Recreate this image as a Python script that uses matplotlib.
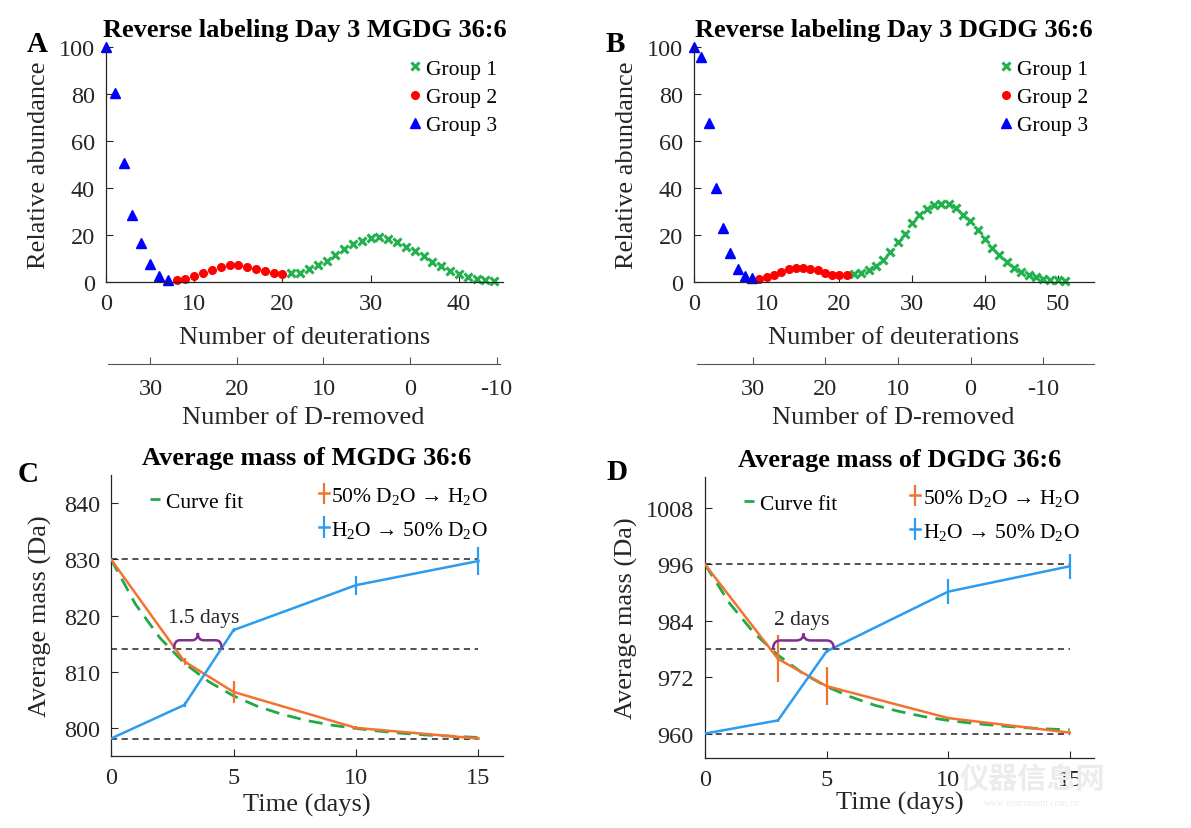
import numpy as np
import matplotlib
matplotlib.use('Agg')
import matplotlib.pyplot as plt
from matplotlib.path import Path
from matplotlib.patches import PathPatch

plt.rcParams['font.family'] = ['Liberation Serif', 'DejaVu Serif']
plt.rcParams['mathtext.fontset'] = 'custom'
plt.rcParams['mathtext.rm'] = 'Liberation Serif'
plt.rcParams['mathtext.it'] = 'Liberation Serif:italic'
plt.rcParams['mathtext.bf'] = 'Liberation Serif:bold'
plt.rcParams['axes.unicode_minus'] = False

# ---- panel A / B: isotope distributions ----
a_g3_x = list(range(0, 8))
a_g3 = [100, 80.4, 50.6, 28.7, 16.4, 7.5, 2.7, 0.9]
a_g2_x = list(range(8, 21))
a_g2 = [0.9, 1.4, 2.4, 3.7, 5.3, 6.5, 7.3, 7.3, 6.5, 5.7, 4.7, 3.8, 3.4]
a_g1_x = list(range(21, 45))
a_g1 = [3.7, 3.8, 5.4, 7.1, 9.1, 11.5, 13.9, 16.0, 17.6, 18.6, 19.0, 18.5,
        17.0, 15.0, 13.2, 11.1, 8.7, 6.7, 4.8, 3.3, 2.1, 1.3, 0.85, 0.6]

b_g3_x = list(range(0, 9))
b_g3 = [100, 95.6, 67.7, 40.0, 23.0, 12.5, 5.4, 2.6, 1.8]
b_g2_x = list(range(9, 22))
b_g2 = [1.4, 2.1, 3.0, 4.3, 5.4, 5.8, 6.0, 5.7, 5.1, 3.7, 3.1, 3.0, 3.1]
b_g1_x = list(range(22, 52))
b_g1 = [3.4, 3.7, 5.0, 6.8, 9.4, 12.8, 16.9, 20.6, 24.9, 28.6, 31.0, 32.9,
        33.4, 33.4, 31.4, 28.7, 26.0, 22.2, 18.5, 14.5, 11.4, 8.4, 6.1, 4.3,
        2.8, 2.0, 1.4, 1.0, 0.7, 0.4]

# ---- panel C / D: average mass over time ----
t = [0, 3, 5, 10, 15]
c_fwd = [830.0, 811.8, 806.4, 800.0, 798.1]
c_fwd_err = [0.1, 0.6, 1.9, 0.3, 0.2]
c_rev = [798.1, 804.1, 817.4, 825.4, 829.7]
c_rev_err = [0.1, 0.45, 0.3, 1.7, 2.5]
d_fwd = [996.0, 975.9, 970.1, 963.3, 960.2]
d_fwd_err = [0.1, 5.0, 4.1, 0.3, 0.2]
d_rev = [960.0, 962.8, 977.5, 990.2, 995.6]
d_rev_err = [0.1, 0.4, 0.3, 2.6, 2.7]

fit_t = list(range(0, 16))
c_fit = [830.0, 822.0, 816.0, 811.5, 808.2, 805.7, 803.8, 802.4, 801.3,
         800.5, 799.9, 799.4, 799.0, 798.7, 798.5, 798.3]
d_fit = [996.0, 987.8, 981.5, 976.7, 972.9, 970.0, 967.8, 966.0, 964.7,
         963.6, 962.8, 962.2, 961.7, 961.3, 961.0, 960.8]

c_levels = [830, 814, 798]
d_levels = [996, 978, 960]
c_brace = (2.57, 4.52, 814, 2.9)
d_brace = (2.8, 5.3, 978, 3.3)

GREEN = '#22b14c'
RED = '#ff0000'
BLUE = '#0000ff'
ORANGE = '#f3722f'
LBLUE = '#2b9cef'
PURPLE = '#7e2f8e'
AX = '#262626'

W, H = 1191, 829
fig = plt.figure(figsize=(W / 100, H / 100), dpi=100)


def box(l, t_, r, b):
    return [l / W, 1 - b / H, (r - l) / W, (b - t_) / H]


def style(ax):
    for s in ['top', 'right']:
        ax.spines[s].set_visible(False)
    for s in ['left', 'bottom']:
        ax.spines[s].set_color(AX)
        ax.spines[s].set_linewidth(0.9)
    ax.tick_params(direction='in', length=5, width=0.8, color=AX,
                   labelcolor=AX, labelsize=17.5, pad=8)


def sec_axis(rect, xlim, lab_x, lab_y):
    ax2 = fig.add_axes(rect)
    ax2.set_facecolor('none')
    for s in ['top', 'right', 'left']:
        ax2.spines[s].set_visible(False)
    ax2.spines['bottom'].set_color('#555555')
    ax2.set_yticks([])
    ax2.set_xlim(xlim)
    ax2.set_xticks([30, 20, 10, 0, -10])
    ax2.tick_params(direction='in', length=5, width=0.8, color='#555555',
                    labelcolor=AX, labelsize=17.5, pad=10)
    ax2.set_xlabel('Number of D-removed', fontsize=19, color=AX)
    ax2.xaxis.set_label_coords(lab_x / W, 1 - lab_y / H, transform=fig.transFigure)
    ax2.xaxis.label.set_va('center')


def dist_panel(rect, g1x, g1, g2x, g2, g3x, g3, xmax, xticks, title, letter, lx, xl_x):
    ax = fig.add_axes(rect)
    style(ax)
    ax.plot(g1x, g1, ls='none', marker='x', ms=5.5, mew=2.2, color=GREEN, label='Group 1', clip_on=False)
    ax.plot(g2x, g2, ls='none', marker='o', ms=5.5, color=RED, label='Group 2', clip_on=False)
    ax.plot(g3x, g3, ls='none', marker='^', ms=6.5, color=BLUE, label='Group 3', clip_on=False)
    ax.set_xlim(0, xmax)
    ax.set_ylim(0, 100)
    ax.set_xticks(xticks)
    ax.set_yticks([0, 20, 40, 60, 80, 100])
    ax.set_title(title, fontsize=19, fontweight='bold', pad=8)
    ax.set_ylabel('Relative abundance', fontsize=19, color=AX)
    ax.yaxis.set_label_coords(lx, 0.5)
    ax.set_xlabel('Number of deuterations', fontsize=19, color=AX)
    ax.xaxis.set_label_coords(xl_x / W, 1 - 338 / H, transform=fig.transFigure)
    ax.xaxis.label.set_va('center')
    ax.legend(loc='upper right', bbox_to_anchor=(0.985, 0.95), frameon=False,
              fontsize=15.5, handlelength=0.6, handletextpad=0.2, borderpad=0,
              borderaxespad=0, labelspacing=0.38, numpoints=1)
    fig.text(letter[0] / W, 1 - letter[1] / H, letter[2], fontsize=21,
             fontweight='bold', ha='center', va='center')
    return ax


def brace(ax, x0, x1, y0, h):
    xm = (x0 + x1) / 2
    q = (x1 - x0) * 0.12
    ym = y0 + h * 0.55
    verts = [(x0, y0), (x0, ym), (x0 + q, ym), (xm - q, ym), (xm, ym), (xm, y0 + h),
             (xm, ym), (xm + q, ym), (x1 - q, ym), (x1, ym), (x1, y0)]
    codes = [Path.MOVETO, Path.CURVE3, Path.CURVE3, Path.LINETO, Path.CURVE3, Path.CURVE3,
             Path.CURVE3, Path.CURVE3, Path.LINETO, Path.CURVE3, Path.CURVE3]
    ax.add_patch(PathPatch(Path(verts, codes), fill=False, ec=PURPLE, lw=1.8, zorder=5))


def mass_panel(rect, fwd, fwd_err, rev, rev_err, fit, levels, ylim, yticks, title,
               letter, lx, br, br_text, br_tx, br_ty, xl_y):
    ax = fig.add_axes(rect)
    style(ax)
    for lv in levels:
        ax.plot([0, 15], [lv, lv], ls=(0, (4, 3)), color='#222222', lw=1.1, zorder=1)
    fl, = ax.plot(fit_t, fit, ls=(0, (5, 3)), color='#22a84a', lw=2, zorder=2, label='Curve fit')
    e1 = ax.errorbar(t, fwd, yerr=fwd_err, color=ORANGE, lw=1.8, elinewidth=1.6,
                     capsize=0, zorder=3, label='50% D$_\\mathrm{2}$O → H$_\\mathrm{2}$O')
    e2 = ax.errorbar(t, rev, yerr=rev_err, color=LBLUE, lw=1.8, elinewidth=1.6,
                     capsize=0, zorder=3, label='H$_\\mathrm{2}$O → 50% D$_\\mathrm{2}$O')
    brace(ax, *br)
    ax.text(br_tx, br_ty, br_text, fontsize=15.5, ha='center', va='center', color=AX)
    ax.set_xlim(0, 16)
    ax.set_ylim(ylim)
    ax.set_xticks([0, 5, 10, 15])
    ax.set_yticks(yticks)
    ax.set_title(title, fontsize=19, fontweight='bold', pad=8)
    ax.set_ylabel('Average mass (Da)', fontsize=19, color=AX)
    ax.yaxis.set_label_coords(lx, 0.5)
    ax.set_xlabel('Time (days)', fontsize=19, color=AX)
    ax.xaxis.set_label_coords(0.5, xl_y)
    ax.xaxis.label.set_va('center')
    leg1 = ax.legend(handles=[fl], loc='upper left', bbox_to_anchor=(0.1, 0.94),
                     frameon=False, fontsize=15.5, handlelength=0.45, handletextpad=0.3,
                     borderpad=0, borderaxespad=0)
    ax.add_artist(leg1)
    ax.legend(handles=[e1, e2], loc='upper right', bbox_to_anchor=(0.962, 0.965),
              frameon=False, fontsize=15.5, handlelength=0.5, handletextpad=0.1,
              borderpad=0, borderaxespad=0, labelspacing=0.6)
    fig.text(letter[0] / W, 1 - letter[1] / H, letter[2], fontsize=21,
             fontweight='bold', ha='center', va='center')
    return ax


dist_panel(box(106, 48, 503, 283), a_g1_x, a_g1, a_g2_x, a_g2, a_g3_x, a_g3, 45,
           [0, 10, 20, 30, 40], 'Reverse labeling Day 3 MGDG 36:6', (37, 45, 'A'), -0.141, 305)
sec_axis(box(108, 355, 500, 365), (34.9, -10.4), 303, 418)

dist_panel(box(694, 48, 1094, 283), b_g1_x, b_g1, b_g2_x, b_g2, b_g3_x, b_g3, 55,
           [0, 10, 20, 30, 40, 50], 'Reverse labeling Day 3 DGDG 36:6', (615, 45, 'B'), -0.14, 894)
sec_axis(box(697, 355, 1094, 365), (37.7, -17.0), 893, 418)

mass_panel(box(111, 476, 503, 757), c_fwd, c_fwd_err, c_rev, c_rev_err, c_fit, c_levels,
           (795, 845), [800, 810, 820, 830, 840], 'Average mass of MGDG 36:6',
           (28, 475, 'C'), -0.15, c_brace, '1.5 days', 3.8, 819.6, -0.171)

mass_panel(box(705, 478, 1094, 759), d_fwd, d_fwd_err, d_rev, d_rev_err, d_fit, d_levels,
           (954.8, 1014.6), [960, 972, 984, 996, 1008], 'Average mass of DGDG 36:6',
           (617, 473, 'D'), -0.172, d_brace, '2 days', 4.0, 984.2, -0.157)

# faint site watermark in the corner
fig.text(1032 / W, 1 - 780 / H, '仪器信息网', fontsize=21, color='#ececec',
         fontweight='bold', family=['Noto Sans CJK SC', 'DejaVu Sans'], ha='center', va='center',
         zorder=0)
fig.text(1032 / W, 1 - 804 / H, 'www.instrument.com.cn', fontsize=7, color='#ececec',
         ha='center', va='center', zorder=0)

fig.savefig('out.png', dpi=100)
